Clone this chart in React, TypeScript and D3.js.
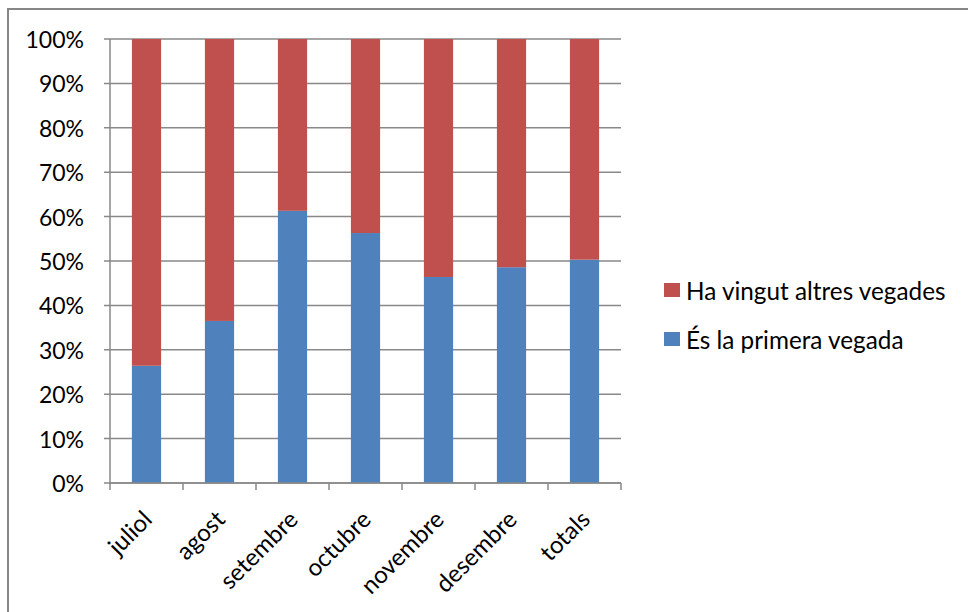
import React from "react";
import * as d3 from "d3";

const categories = ["juliol", "agost", "setembre", "octubre", "novembre", "desembre", "totals"];
const primeraVegada = [26.4, 36.5, 61.3, 56.3, 46.4, 48.6, 50.3];
const altresVegades = primeraVegada.map((v) => 100 - v);
const seriesNames = ["Ha vingut altres vegades", "És la primera vegada"];
const yTicks = [0, 10, 20, 30, 40, 50, 60, 70, 80, 90, 100];

const W = 968;
const H = 612;
const plot = { left: 110, right: 621, top: 39, bottom: 483 };
const BLUE = "#4F81BD";
const RED = "#C0504D";
const GRID = "#898989";
const FONT = "Lato, 'Open Sans', sans-serif";

export default function App() {
  const x = d3
    .scaleBand<string>()
    .domain(categories)
    .range([plot.left, plot.right])
    .paddingInner(0.6)
    .paddingOuter(0.3);
  const step = (plot.right - plot.left) / categories.length;
  const y = d3.scaleLinear().domain([0, 100]).range([plot.bottom, plot.top]);
  const fmt = (v: number) => `${v}%`;

  const stacked = categories.map((c, i) => ({
    cat: c,
    blue: [0, primeraVegada[i]],
    red: [primeraVegada[i], primeraVegada[i] + altresVegades[i]],
  }));

  return (
    <svg
      width={W}
      height={H}
      style={{ position: "absolute", left: 0, top: 0, background: "#fff" }}
      fontFamily={FONT}
    >
      <rect x={8} y={9} width={W} height={H} fill="#fff" stroke="#868686" strokeWidth={2} />
      {yTicks.map((t) => (
        <line
          key={"g" + t}
          x1={plot.left - 6}
          x2={plot.right}
          y1={y(t)}
          y2={y(t)}
          stroke={GRID}
          strokeWidth={1.5}
        />
      ))}
      <line x1={plot.left} x2={plot.left} y1={plot.top} y2={plot.bottom} stroke={GRID} strokeWidth={1.5} />
      {yTicks.map((t) => (
        <text
          key={"yl" + t}
          x={84}
          y={y(t)}
          textAnchor="end"
          dominantBaseline="central"
          fontSize={23}
          fill="#000"
        >
          {fmt(t)}
        </text>
      ))}
      {stacked.map((d) => (
        <g key={d.cat}>
          <rect
            x={x(d.cat)!}
            width={x.bandwidth()}
            y={y(d.blue[1])}
            height={y(d.blue[0]) - y(d.blue[1])}
            fill={BLUE}
          />
          <rect
            x={x(d.cat)!}
            width={x.bandwidth()}
            y={y(d.red[1])}
            height={y(d.red[0]) - y(d.red[1])}
            fill={RED}
          />
        </g>
      ))}
      <line x1={plot.left} x2={plot.right} y1={plot.bottom} y2={plot.bottom} stroke={GRID} strokeWidth={1.5} />
      {d3.range(categories.length + 1).map((i) => (
        <line
          key={"xt" + i}
          x1={plot.left + i * step}
          x2={plot.left + i * step}
          y1={plot.bottom}
          y2={plot.bottom + 7}
          stroke={GRID}
          strokeWidth={1.5}
        />
      ))}
      {categories.map((c) => {
        const cx = x(c)! + x.bandwidth() / 2 + 7;
        const cy = plot.bottom + 38;
        return (
          <text
            key={"xl" + c}
            x={cx}
            y={cy}
            textAnchor="end"
            fontSize={24}
            fill="#000"
            transform={`rotate(-45 ${cx} ${cy})`}
          >
            {c}
          </text>
        );
      })}
      {seriesNames.map((name, i) => {
        const cy = i === 0 ? 290 : 339;
        return (
          <g key={name}>
            <rect x={664} y={cy - 7} width={16} height={14} fill={i === 0 ? RED : BLUE} />
            <text x={686} y={cy} dominantBaseline="central" fontSize={24.3} fill="#000">
              {name}
            </text>
          </g>
        );
      })}
    </svg>
  );
}
